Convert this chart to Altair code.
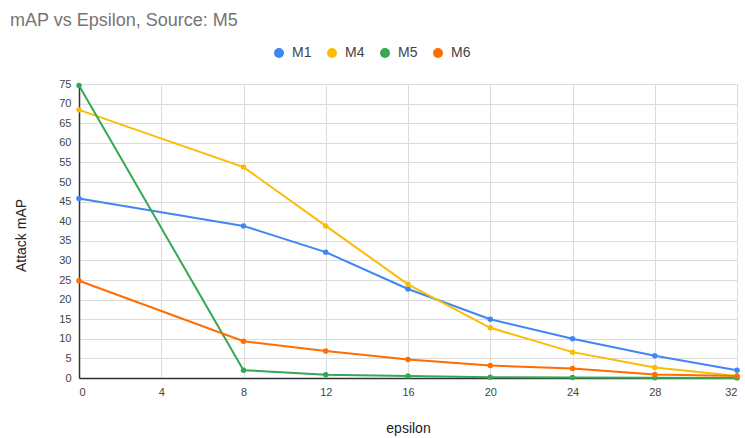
import altair as alt
import pandas as pd

epsilon = [0, 8, 12, 16, 20, 24, 28, 32]
series_names = ["M1", "M4", "M5", "M6"]
m1 = [45.8, 38.8, 32.1, 22.7, 15.0, 10.0, 5.7, 2.0]
m4 = [68.4, 53.8, 38.8, 23.9, 12.8, 6.6, 2.7, 0.5]
m5 = [74.6, 2.0, 0.85, 0.5, 0.2, 0.1, 0.05, 0.03]
m6 = [24.8, 9.4, 6.9, 4.7, 3.2, 2.4, 0.9, 0.5]
colors = ["#4285F4", "#FBBC04", "#34A853", "#FF6D01"]
x_ticks = [0, 4, 8, 12, 16, 20, 24, 28, 32]
y_ticks = list(range(0, 80, 5))

rows = []
for name, vals in zip(series_names, [m1, m4, m5, m6]):
    for e, v in zip(epsilon, vals):
        rows.append({"epsilon": e, "mAP": v, "series": name})
df = pd.DataFrame(rows)

FONT = "Liberation Sans"

x = alt.X("epsilon:Q", scale=alt.Scale(domain=[0, 32], nice=False),
          axis=alt.Axis(values=x_ticks, title="epsilon", grid=True, ticks=False,
                        labelPadding=8, labelFontSize=11, labelColor="#444",
                        titleFontSize=14, titleFontWeight="normal", titleColor="#222",
                        titleY=50, titleBaseline="middle",
                        domainColor="#333", domainWidth=1.5, gridColor="#dcdcdc"))
y = alt.Y("mAP:Q", scale=alt.Scale(domain=[0, 75], nice=False),
          axis=alt.Axis(values=y_ticks, title="Attack mAP", grid=True, ticks=False,
                        labelPadding=8, labelFontSize=11, labelColor="#444",
                        titleFontSize=14, titleFontWeight="normal", titleColor="#222",
                        titleX=-58, titleY=151, titleAngle=-90, titleAlign="center",
                        titleBaseline="middle",
                        domainColor="#333", domainWidth=1.5, gridColor="#dcdcdc"))
color = alt.Color("series:N", scale=alt.Scale(domain=series_names, range=colors),
                  legend=alt.Legend(orient="none", legendX=193, legendY=-38, direction="horizontal",
                                    title=None, symbolType="circle", symbolSize=100,
                                    symbolStrokeWidth=0, labelFontSize=14, labelColor="#444",
                                    columnPadding=13, labelOffset=6))

base = alt.Chart(df)
lines = base.mark_line(strokeWidth=2).encode(x=x, y=y, color=color)
points = base.mark_circle(size=30, opacity=1).encode(x=x, y=y, color=color)

chart = alt.layer(lines, points).properties(
    width=658, height=294,
    title=alt.TitleParams("mAP vs Epsilon, Source: M5", anchor="start", frame="group",
                          dx=-69, offset=16, fontSize=18, color="#757575",
                          fontWeight="normal", font=FONT),
    autosize=alt.AutoSizeParams(type="none"),
    padding={"left": 79, "top": 84, "right": 8, "bottom": 60},
).configure(font=FONT).configure_view(stroke=None).configure_axis(labelFont=FONT, titleFont=FONT).configure_legend(labelFont=FONT)

chart.save("out.html", embed_options={"renderer": "svg", "actions": False})
